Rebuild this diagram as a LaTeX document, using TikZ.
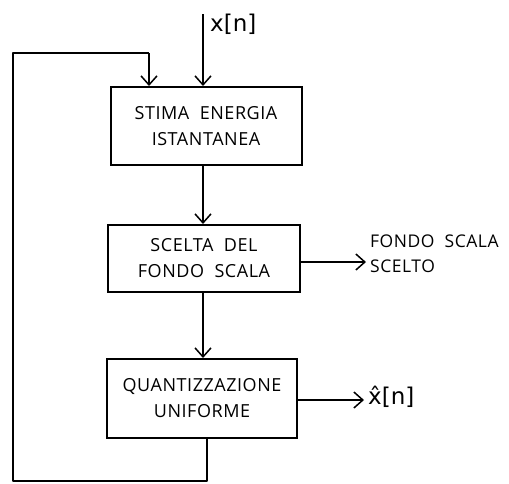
\documentclass[tikz,border=0pt]{standalone}
\usepackage{fontspec}
\setmainfont{Open Sans}
\newfontfamily\handfont[LetterSpace=3,WordSpace=2.0]{Open Sans}
\newfontfamily\sigfont{DejaVu Sans}
\usetikzlibrary{arrows.meta}
\tikzset{
  blk/.style={draw, line width=2pt, minimum width=#1, inner sep=0pt, align=center,
     font=\handfont\fontsize{18}{26}\selectfont},
  wire/.style={line width=1.5pt, line join=round},
  arr/.style={wire, -{Straight Barb[length=9pt,width=16pt,line width=1.5pt]}},
  lbl/.style={inner sep=0pt, anchor=west, align=left, font=\handfont\fontsize{17.5}{25}\selectfont},
  sig/.style={inner sep=0pt, font=\sigfont\fontsize{23}{26}\selectfont}
}
\begin{document}
\begin{tikzpicture}[x=1pt,y=-1pt]
\useasboundingbox (0,0) rectangle (509,483);
\node[blk=191pt, minimum height=78pt] (b1) at (206,126) {STIMA ENERGIA\\ISTANTANEA};
\node[blk=192pt, minimum height=67pt] (b2) at (204,258.5) {SCELTA DEL\\FONDO SCALA};
\node[blk=190pt, minimum height=79pt] (b3) at (202,398.5) {QUANTIZZAZIONE\\UNIFORME};
\coordinate (in) at (203,14);
\node[sig, anchor=west] (xn) at (210,24) {x[n]};
\node[lbl] (fs) at (370,254) {FONDO SCALA\\SCELTO};
\node[sig, anchor=west] (xh) at (368,397) {x̂[n]};
\coordinate (fbA) at (207,481);
\coordinate (fbB) at (13,53);
\coordinate (fbC) at (149,53);
% input
\draw[arr] (in) -- (in |- b1.north);
% chain
\draw[arr] (b1.south -| in) -- (b2.north -| in);
\draw[arr] (b2.south -| in) -- (b3.north -| in);
% outputs
\draw[arr] (b2.east |- 0,262) -- (366,262);
\draw[arr] (b3.east |- 0,400) -- (364,400);
% feedback
\draw[wire] (b3.south -| fbA) -- (fbA) -| (fbB) -- (fbC);
\draw[arr] (fbC) -- (fbC |- b1.north);
\end{tikzpicture}
\end{document}
